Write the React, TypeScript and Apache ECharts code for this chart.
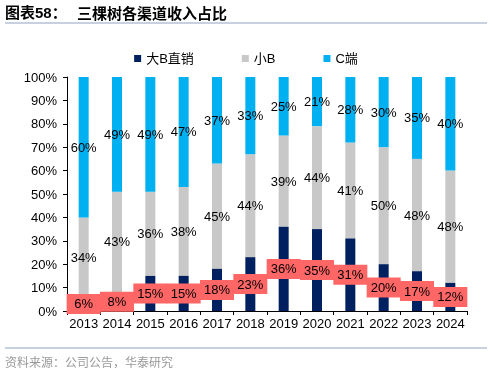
import React, { useEffect, useRef } from "react";
import * as echarts from "echarts";

const years = ["2013", "2014", "2015", "2016", "2017", "2018", "2019", "2020", "2021", "2022", "2023", "2024"];
const bigB = [6, 8, 15, 15, 18, 23, 36, 35, 31, 20, 17, 12];
const smallB = [34, 43, 36, 38, 45, 44, 39, 44, 41, 50, 48, 48];
const cEnd = [60, 49, 49, 47, 37, 33, 25, 21, 28, 30, 35, 40];
const seriesNames = ["大B直销", "小B", "C端"];
const yTicks = [0, 10, 20, 30, 40, 50, 60, 70, 80, 90, 100];

const FONT = "'Liberation Sans', Arial, 'Noto Sans CJK SC', sans-serif";

export default function App() {
  const ref = useRef<HTMLDivElement>(null);
  useEffect(() => {
    if (!ref.current) return;
    const chart = echarts.init(ref.current, undefined, { renderer: "svg" });
    const baseLabel = {
      show: true,
      position: "inside" as const,
      color: "#000",
      fontSize: 13,
      fontFamily: FONT,
      formatter: "{c}%",
    };
    chart.setOption({
      animation: false,
      textStyle: { fontFamily: FONT },
      legend: {
        top: 47,
        left: "center",
        itemWidth: 7,
        itemHeight: 7,
        itemGap: 48,
        icon: "rect",
        textStyle: { fontSize: 13, color: "#000", fontFamily: FONT },
        data: seriesNames,
      },
      grid: { left: 67, right: 25, top: 77, bottom: 66, containLabel: false },
      xAxis: {
        type: "category",
        data: years,
        axisLine: { lineStyle: { color: "#000", width: 1 } },
        axisTick: { show: true, alignWithLabel: false, interval: 0, length: 4, lineStyle: { color: "#000" } },
        axisLabel: { color: "#000", fontSize: 13, margin: 6, interval: 0, fontFamily: FONT },
      },
      yAxis: {
        type: "value",
        min: 0,
        max: 100,
        interval: 10,
        axisLine: { show: true, lineStyle: { color: "#000", width: 1 } },
        axisTick: { show: true, length: 4, lineStyle: { color: "#000" } },
        splitLine: { show: false },
        axisLabel: { color: "#000", fontSize: 13, margin: 10, fontFamily: FONT, formatter: (v: number) => (yTicks.includes(v) ? v + "%" : "") },
      },
      series: [
        {
          name: seriesNames[0],
          type: "bar",
          stack: "total",
          data: bigB,
          barWidth: 10,
          itemStyle: { color: "#002060" },
          z: 3,
          label: {
            ...baseLabel,
            backgroundColor: "#FF6666",
            width: 34,
            height: 20,
            lineHeight: 20,
            align: "center",
            verticalAlign: "middle",
          },
        },
        {
          name: seriesNames[1],
          type: "bar",
          stack: "total",
          data: smallB,
          barWidth: 10,
          itemStyle: { color: "#C8C8C8" },
          label: baseLabel,
        },
        {
          name: seriesNames[2],
          type: "bar",
          stack: "total",
          data: cEnd,
          barWidth: 10,
          itemStyle: { color: "#00B0F0" },
          label: baseLabel,
        },
      ],
      graphic: [
        {
          type: "text",
          left: 5,
          top: 5,
          style: { text: "图表58：", font: "bold 15px 'Liberation Sans', 'Noto Sans CJK SC', sans-serif", fill: "#000" },
        },
        {
          type: "text",
          left: 77,
          top: 5,
          style: { text: "三棵树各渠道收入占比", font: "bold 15px 'Noto Sans CJK SC', sans-serif", fill: "#000" },
        },
        {
          type: "line",
          shape: { x1: 5, y1: 23, x2: 487, y2: 23 },
          style: { stroke: "#8FA2BF", lineWidth: 1 },
        },
        {
          type: "line",
          shape: { x1: 5, y1: 348, x2: 487, y2: 348 },
          style: { stroke: "#8FA2BF", lineWidth: 1 },
        },
        {
          type: "text",
          left: 5,
          top: 355,
          style: { text: "资料来源：公司公告，华泰研究", font: "12px 'Noto Sans CJK SC', sans-serif", fill: "#999" },
        },
      ],
    });
    return () => chart.dispose();
  }, []);
  return <div ref={ref} style={{ width: 492, height: 377, position: "fixed", left: 0, top: 0 }} />;
}
